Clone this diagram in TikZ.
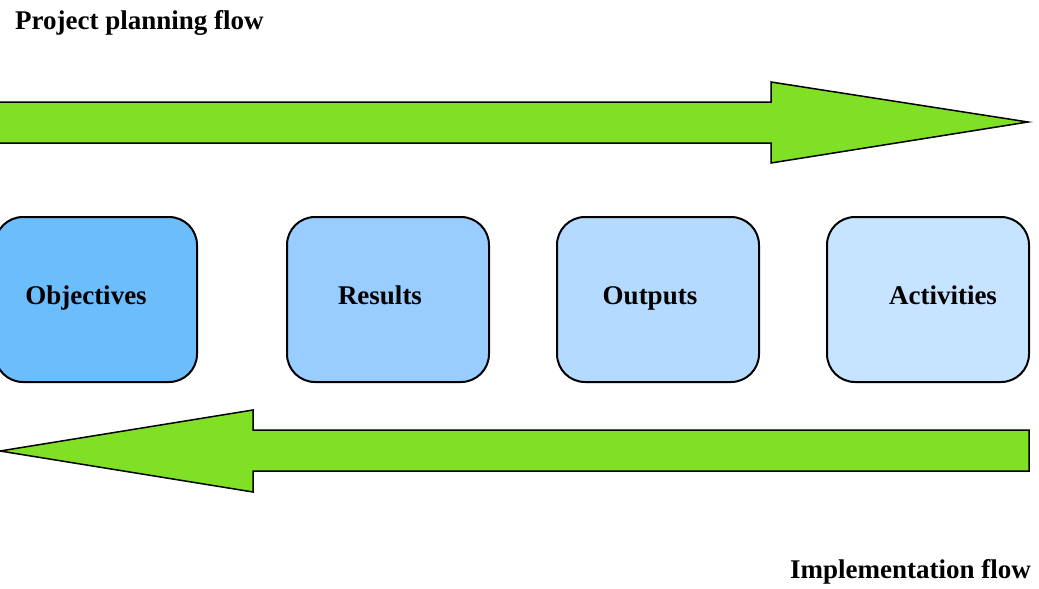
\documentclass[tikz,border=0pt]{standalone}
\usepackage{fontspec}
\setmainfont{Liberation Serif}
\begin{document}
\begin{tikzpicture}[x=1pt,y=-1pt,
  lbl/.style={font=\fontsize{27}{30}\selectfont\bfseries, inner sep=0pt},
  stage/.style={draw=black, line width=2pt, rounded corners=28pt,
    minimum width=202pt, minimum height=165pt, inner sep=0pt},
  flow/.style={draw=black, line width=1.5pt, fill=flowgreen, line join=miter}]
\definecolor{flowgreen}{RGB}{128,224,38}
\definecolor{objblue}{RGB}{108,189,252}
\definecolor{resblue}{RGB}{153,204,255}
\definecolor{outblue}{RGB}{180,219,255}
\definecolor{actblue}{RGB}{198,227,255}
\useasboundingbox (0,0) rectangle (1039,589);

% planning flow arrow (left to right)
\draw[flow] (-5,102) -- (771,102) -- (771,82) -- (1028,122) -- (771,163)
  -- (771,143) -- (-5,143);

% implementation flow arrow (right to left)
\draw[flow] (1029,430) -- (253,430) -- (253,410) -- (0,451) -- (253,492)
  -- (253,471) -- (1029,471) -- cycle;

% stage boxes
\node[stage, fill=objblue] (obj) at (96,299.5) {};
\node[stage, fill=resblue] (res) at (388,299.5) {};
\node[stage, fill=outblue] (out) at (658,299.5) {};
\node[stage, fill=actblue] (act) at (928,299.5) {};

\node[lbl, anchor=base] (objl) at (86,304) {Objectives};
\node[lbl, anchor=base] (resl) at (380,304) {Results};
\node[lbl, anchor=base] (outl) at (650,304) {Outputs};
\node[lbl, anchor=base] (actl) at (943,304) {Activities};

% flow captions
\node[lbl, anchor=base west] (plan) at (15,29) {Project planning flow};
\node[lbl, anchor=base east] (impl) at (1031,578) {Implementation flow};
\end{tikzpicture}
\end{document}
